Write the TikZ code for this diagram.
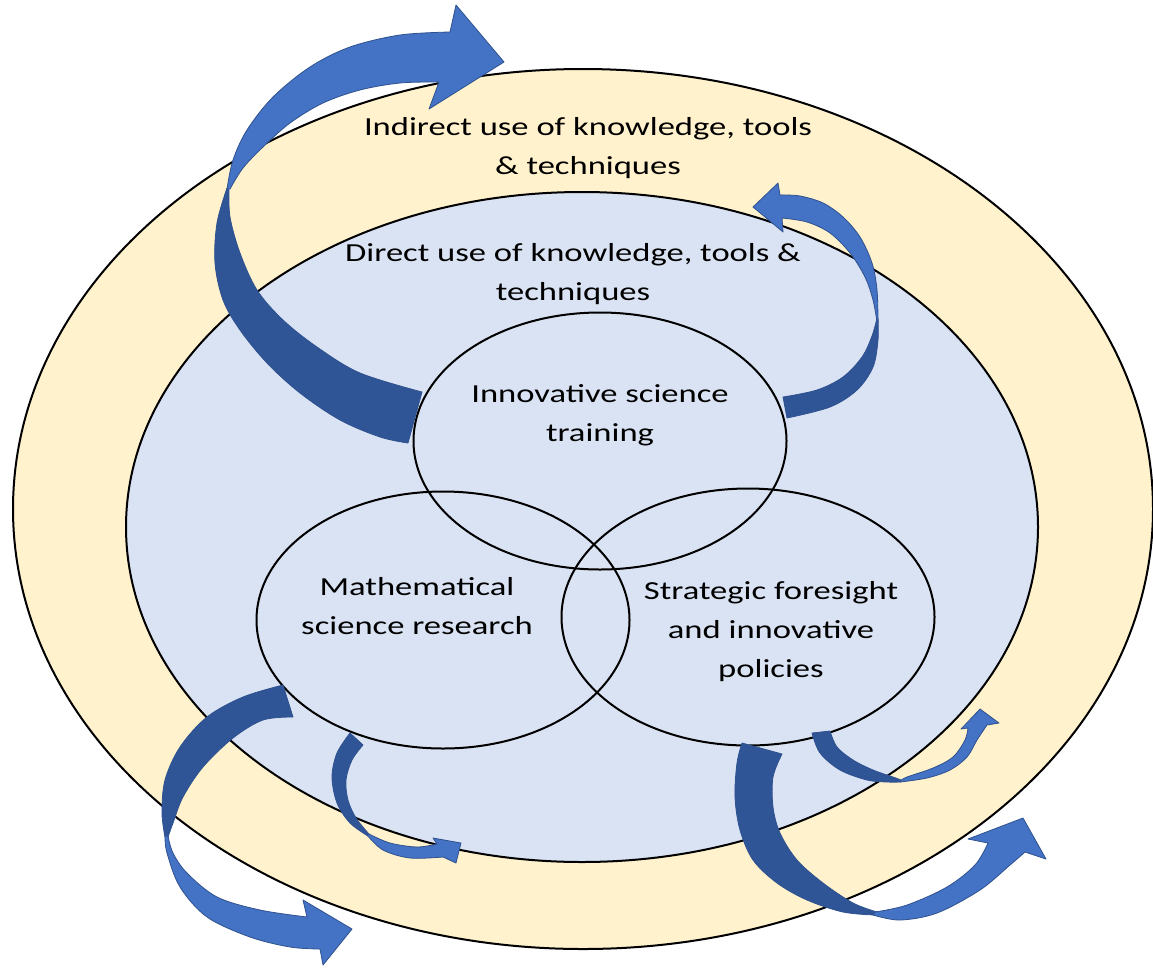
\documentclass[tikz,border=0pt]{standalone}
\usepackage{fontspec}
\setmainfont{Carlito}[FakeStretch=1.33]
\usetikzlibrary{shapes.geometric}
\definecolor{ringfill}{HTML}{FFF2CC}
\definecolor{corefill}{HTML}{DAE3F3}
\definecolor{arrowlight}{HTML}{4472C4}
\definecolor{arrowdark}{HTML}{2F5597}
\definecolor{arrowedge}{HTML}{2F528F}
\begin{document}
\begin{tikzpicture}[x=1pt,y=-1pt,
  band/.style={ellipse, draw=black, line width=2pt, inner sep=0pt},
  topic/.style={ellipse, draw=black, line width=2pt, inner sep=0pt, minimum width=373pt, minimum height=257pt},
  lbl/.style={align=center, anchor=base, inner sep=0pt, font=\fontsize{26}{39}\selectfont},
  ribbonlight/.style={fill=arrowlight, draw=arrowedge, line width=0.8pt, line join=round},
  ribbondark/.style={fill=arrowdark, draw=arrowedge, line width=0.8pt, line join=round},
  rib/.style={smooth, tension=0.55}]
\useasboundingbox (0,0) rectangle (1153,967);
\fill[white] (0,0) rectangle (1153,967);
% rings
\node[band, fill=ringfill, minimum width=1140pt, minimum height=880pt] (outer) at (583,509) {};
\node[band, fill=corefill, minimum width=912pt, minimum height=670pt] (inner) at (582,527) {};
% three topics
\node[topic] (train) at (600,441) {};
\node[topic] (math) at (443,620) {};
\node[topic] (strat) at (748,617) {};
% labels (anchor = baseline of last line)
\node[lbl] (indirect) at (588,174) {Indirect use of knowledge, tools\\\& techniques};
\node[lbl] (direct) at (573,300) {Direct use of knowledge, tools \&\\techniques};
\node[lbl] (trainlbl) at (600,441) {Innovative science\\training};
\node[lbl] (mathlbl) at (417,634) {Mathematical\\science research};
\node[lbl] (stratlbl) at (771,677) {Strategic foresight\\and innovative\\policies};
% arrow 1 (top left, big)
\filldraw[ribbondark] plot[rib] coordinates {(227,188) (217,223) (215,263) (223,300) (240,330) (267,363) (300,393) (340,420) (380,437) (408,443)}
  -- plot[rib] coordinates {(422,392) (360,373) (317,347) (283,320) (257,290) (240,253) (230,217) (229,188)} -- cycle;
\filldraw[ribbonlight] plot[rib] coordinates {(227,189) (233,160) (247,130) (273,97) (310,67) (350,47) (400,35) (450,32)}
  -- (456,5) -- (504,62) -- (429,109) --
  plot[rib] coordinates {(439,82) (400,83) (360,90) (323,103) (290,123) (263,147) (243,168) (230,189)} -- cycle;
% arrow 2 (top right)
\filldraw[ribbondark] plot[rib] coordinates {(878,318) (878,340) (873,367) (857,390) (830,407) (787,418)}
  -- plot[rib] coordinates {(783,397) (817,390) (843,377) (862,357) (872,336) (877,318)} -- cycle;
\filldraw[ribbonlight] plot[rib] coordinates {(878,322) (877,290) (872,263) (860,237) (843,217) (823,203) (800,196) (780,195)}
  -- (778,183) -- (753,207) -- (783,232) --
  plot[rib] coordinates {(782,218) (807,222) (830,233) (850,253) (865,277) (873,300) (877,322)} -- cycle;
% arrow 3 (bottom left, big)
\filldraw[ribbondark] plot[rib] coordinates {(283,685) (243,697) (207,717) (180,747) (165,780) (162,813) (165,837)}
  -- plot[rib] coordinates {(168,837) (173,823) (183,797) (203,767) (233,738) (263,720) (293,717)} -- cycle;
\filldraw[ribbonlight] plot[rib] coordinates {(165,836) (167,853) (180,887) (207,917) (250,937) (290,947) (320,949)}
  -- (323,965) -- (352,929) -- (303,900) --
  plot[rib] coordinates {(307,917) (260,910) (217,897) (187,873) (173,853) (168,836)} -- cycle;
% arrow 4 (bottom left, small)
\filldraw[ribbondark] plot[rib] coordinates {(350,733) (337,753) (332,777) (337,803) (350,823) (368,836)}
  -- plot[rib] coordinates {(369,834) (356,818) (348,800) (346,780) (352,760) (363,745)} -- cycle;
\filldraw[ribbonlight] plot[rib] coordinates {(367,835) (383,850) (410,858) (443,857)}
  -- (456,863) -- (461,843) -- (433,838) --
  plot[rib] coordinates {(437,844) (417,847) (390,843) (369,834)} -- cycle;
% arrow 5 (bottom right, small)
\filldraw[ribbondark] plot[rib] coordinates {(812,733) (820,753) (840,770) (867,780) (887,782) (901,782)}
  -- plot[rib] coordinates {(901,780) (893,777) (873,770) (853,760) (837,747) (830,731)} -- cycle;
\filldraw[ribbonlight] plot[rib] coordinates {(900,782) (927,778) (950,770) (967,757) (977,740) (987,725)}
  -- (999,723) -- (980,709) -- (961,729) --
  plot[rib] coordinates {(968,728) (965,740) (953,757) (933,768) (907,777) (900,781)} -- cycle;
% arrow 6 (bottom right, big)
\filldraw[ribbondark] plot[rib] coordinates {(742,743) (737,763) (735,797) (740,830) (753,860) (777,883) (807,900) (843,912) (875,915)}
  -- plot[rib] coordinates {(877,912) (853,903) (823,883) (797,860) (780,833) (773,807) (773,777) (782,754)} -- cycle;
\filldraw[ribbonlight] plot[rib] coordinates {(873,915) (900,920) (937,913) (980,890) (1010,865) (1025,852)}
  -- (1046,859) -- (1023,818) -- (968,839) --
  plot[rib] coordinates {(988,843) (975,865) (947,887) (907,905) (875,912)} -- cycle;
\end{tikzpicture}
\end{document}
